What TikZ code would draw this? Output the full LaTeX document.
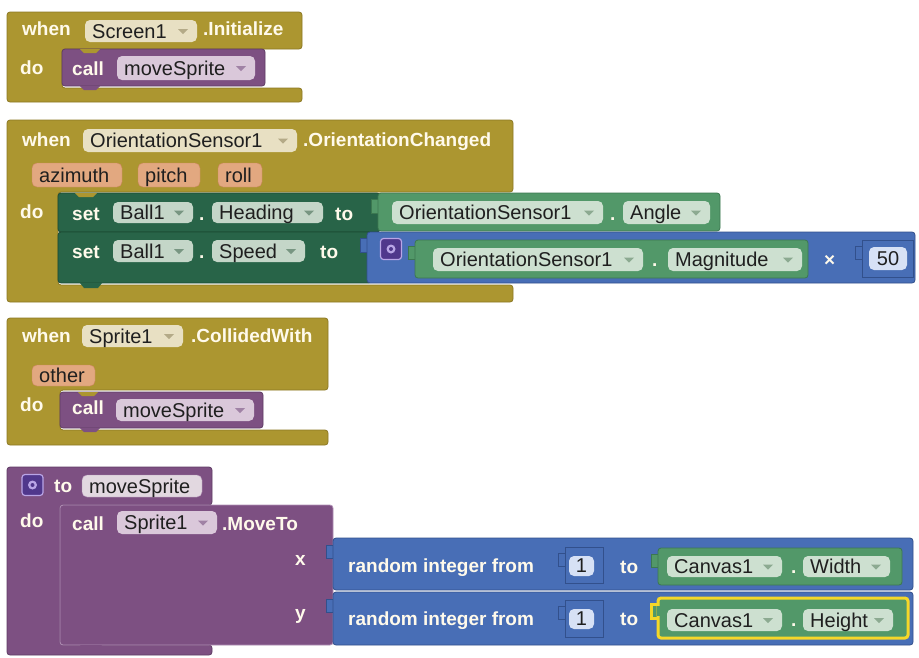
\documentclass[tikz,border=0pt]{standalone}
\usepackage{fontspec}
\setmainfont{Liberation Sans}
\definecolor{evt}{RGB}{172,150,48}
\definecolor{evtdk}{RGB}{140,120,35}
\definecolor{evtpill}{RGB}{232,224,195}
\definecolor{evttri}{RGB}{180,170,135}
\definecolor{param}{RGB}{226,168,128}
\definecolor{paramdk}{RGB}{205,135,95}
\definecolor{proc}{RGB}{125,80,130}
\definecolor{procdk}{RGB}{95,60,100}
\definecolor{proclt}{RGB}{178,145,182}
\definecolor{procpill}{RGB}{218,200,218}
\definecolor{procname}{RGB}{226,216,224}
\definecolor{proctri}{RGB}{160,130,165}
\definecolor{setc}{RGB}{40,100,72}
\definecolor{setdk}{RGB}{28,75,52}
\definecolor{setpill}{RGB}{196,214,200}
\definecolor{settri}{RGB}{120,150,130}
\definecolor{getc}{RGB}{82,152,105}
\definecolor{getdk}{RGB}{60,120,80}
\definecolor{getpill}{RGB}{205,224,208}
\definecolor{gettri}{RGB}{140,170,145}
\definecolor{mathc}{RGB}{72,110,182}
\definecolor{mathdk}{RGB}{50,80,140}
\definecolor{mathpill}{RGB}{215,225,245}
\definecolor{kwc}{RGB}{255,250,235}
\definecolor{gearc}{RGB}{80,55,140}
\definecolor{gearlt}{RGB}{185,165,230}
\definecolor{selc}{RGB}{245,215,40}
\tikzset{
  kw/.style={anchor=base west, inner sep=0pt, text=kwc, font=\bfseries\fontsize{19}{22}\selectfont},
  ptxt/.style={anchor=base west, inner sep=0pt, text=black!88, font=\fontsize{20}{24}\selectfont},
  ntxt/.style={anchor=center, inner sep=0pt, text=black!88, font=\fontsize{20}{24}\selectfont},
  pillbox/.style={rounded corners=5pt},
  blk/.style={rounded corners=3pt, line width=0.8pt},
  gearbox/.style={draw=gearlt, fill=gearc, rounded corners=3pt, line width=1.2pt, minimum size=21pt, inner sep=0pt},
}
% dropdown pill: name, x1, y1, x2, y2, options, triangle colour, text
\newcommand{\dpill}[8]{%
  \path[pillbox,#6] (#2,#3) rectangle (#4,#5);
  \node[ptxt] (#1) at (#2+7,{(#3+#5)/2+7}) {#8};
  \fill[#7] (#4-19,{(#3+#5)/2-2}) -- (#4-9,{(#3+#5)/2-2}) -- (#4-14,{(#3+#5)/2+3}) -- cycle;
}
% plain pill: name, x1, y1, x2, y2, options, text
\newcommand{\npill}[7]{%
  \path[pillbox,#6] (#2,#3) rectangle (#4,#5);
  \node[ptxt] (#1) at (#2+7,{(#3+#5)/2+7}) {#7};
}
% gear icon: name, centre x, centre y
\newcommand{\gearicon}[3]{%
  \node[gearbox] (#1) at (#2,#3) {};
  \fill[gearlt] (#1.center) circle[radius=4.5pt];
  \fill[gearc] (#1.center) circle[radius=2pt];
}
\begin{document}
\begin{tikzpicture}[x=1pt,y=-1pt]
\useasboundingbox (0,0) rectangle (919,657);
\fill[white] (0,0) rectangle (919,657);

% ---------------- Block 1: Screen1.Initialize
\filldraw[blk, fill=evt, draw=evtdk] (7,12) -- (302,12) -- (302,49) -- (62,49) -- (62,88) -- (302,88) -- (302,102) -- (7,102) -- cycle;
\filldraw[blk, fill=proc, draw=procdk] (62,49) rectangle (265,86);
\fill[evt] (80,49) -- (84,53) -- (96,53) -- (100,49) -- cycle;
\fill[proc] (80,86) -- (84,90) -- (96,90) -- (100,86) -- cycle;
\node[kw] (w1) at (22,35) {when};
\dpill{scr}{85}{20}{197}{42}{fill=evtpill}{evttri}{Screen1}
\node[kw] (ini) at (203,35) {.Initialize};
\node[kw] (do1) at (20,74) {do};
\node[kw] (call1) at (72,75) {call};
\dpill{ms1}{117}{56}{255}{80}{fill=procpill}{proctri}{moveSprite}

% ---------------- Block 2: OrientationChanged
\filldraw[blk, fill=evt, draw=evtdk] (7,120) -- (513,120) -- (513,192) -- (58,192) -- (58,285) -- (513,285) -- (513,302) -- (7,302) -- cycle;
\node[kw] (w2) at (22,146) {when};
\dpill{os0}{83}{129}{297}{152}{fill=evtpill}{evttri}{OrientationSensor1}
\node[kw] (oc) at (303,146) {.OrientationChanged};
\npill{az}{32}{163}{122}{187}{fill=param, draw=paramdk}{azimuth}
\npill{pt}{138}{163}{200}{187}{fill=param, draw=paramdk}{pitch}
\npill{rl}{218}{163}{262}{187}{fill=param, draw=paramdk}{roll}
\node[kw] (do2) at (20,218) {do};
% set blocks
\filldraw[blk, fill=setc, draw=setdk] (58,193) rectangle (380,232);
\filldraw[blk, fill=setc, draw=setdk] (58,232) rectangle (372,283);
\fill[evt] (75,193) -- (79,197) -- (93,197) -- (97,193) -- cycle;
\fill[setc] (80,283) -- (84,288) -- (98,288) -- (102,283) -- cycle;
\node[kw] (set1) at (72,220) {set};
\dpill{b1}{113}{202}{193}{223}{fill=setpill}{settri}{Ball1}
\node[kw] (dot1) at (199,220) {.};
\dpill{hd}{212}{202}{323}{223}{fill=setpill}{settri}{Heading}
\node[kw] (to1) at (335,220) {to};
% getter Angle
\filldraw[fill=getc, draw=getdk] (371,199) rectangle (379,213);
\filldraw[blk, fill=getc, draw=getdk] (378,193) rectangle (720,231);
\dpill{os1}{392}{201}{603}{224}{fill=getpill}{gettri}{OrientationSensor1}
\node[kw] (dot2) at (610,220) {.};
\dpill{ang}{623}{201}{710}{224}{fill=getpill}{gettri}{Angle}
% set speed
\node[kw] (set2) at (72,258) {set};
\dpill{b2}{113}{240}{193}{262}{fill=setpill}{settri}{Ball1}
\node[kw] (dot3) at (199,258) {.};
\dpill{sp}{212}{240}{305}{262}{fill=setpill}{settri}{Speed}
\node[kw] (to2) at (320,258) {to};
% multiply block
\filldraw[fill=mathc, draw=mathdk] (360,238) rectangle (368,252);
\filldraw[blk, fill=mathc, draw=mathdk] (367,232) rectangle (915,283);
\gearicon{g1}{391}{249}
\filldraw[fill=getc, draw=getdk] (408,246) rectangle (416,259);
\filldraw[blk, fill=getc, draw=getdk] (415,240) rectangle (808,278);
\dpill{os2}{433}{248}{643}{271}{fill=getpill}{gettri}{OrientationSensor1}
\node[kw] (dot4) at (652,266) {.};
\dpill{mag}{668}{248}{802}{271}{fill=getpill}{gettri}{Magnitude}
\node[kw] (times) at (824,266) {×};
\filldraw[fill=mathc, draw=mathdk] (855,246) rectangle (863,259);
\filldraw[fill=mathc, draw=mathdk, line width=1pt] (862,240) rectangle (913,277);
\fill[pillbox, mathpill] (869,247) rectangle (907,270);
\node[ntxt] (n50) at (888,258.5) {50};

% ---------------- Block 3: CollidedWith
\filldraw[blk, fill=evt, draw=evtdk] (7,318) -- (328,318) -- (328,390) -- (60,390) -- (60,430) -- (328,430) -- (328,445) -- (7,445) -- cycle;
\filldraw[blk, fill=proc, draw=procdk] (60,392) rectangle (263,428);
\fill[evt] (78,392) -- (82,396) -- (94,396) -- (98,392) -- cycle;
\fill[proc] (80,428) -- (84,432) -- (96,432) -- (100,428) -- cycle;
\node[kw] (w3) at (22,342) {when};
\dpill{sp1}{82}{325}{183}{347}{fill=evtpill}{evttri}{Sprite1}
\node[kw] (cw) at (191,342) {.CollidedWith};
\npill{oth}{32}{365}{95}{386}{fill=param, draw=paramdk}{other}
\node[kw] (do3) at (20,411) {do};
\node[kw] (call3) at (72,414) {call};
\dpill{ms3}{116}{399}{254}{421}{fill=procpill}{proctri}{moveSprite}

% ---------------- Block 4: to moveSprite
\filldraw[blk, fill=proc, draw=procdk] (7,467) -- (212,467) -- (212,505) -- (60,505) -- (60,645) -- (212,645) -- (212,655) -- (7,655) -- cycle;
\gearicon{g2}{32.5}{485}
\node[kw] (to4) at (54,492) {to};
\npill{pn}{82}{475}{202}{497}{fill=procname, draw=proclt}{moveSprite}
\node[kw] (do4) at (20,527) {do};
\filldraw[blk, fill=proc, draw=proclt] (60,505) rectangle (333,645);
\fill[proc] (80,645) -- (84,649) -- (98,649) -- (102,645) -- cycle;
\node[kw] (call4) at (72,530) {call};
\dpill{spr4}{117}{511}{217}{534}{fill=procpill}{proctri}{Sprite1}
\node[kw] (mt) at (222,530) {.MoveTo};
\node[kw] (xl) at (295,565) {x};
\node[kw] (yl) at (295,619) {y};
% random integer 1
\filldraw[fill=mathc, draw=mathdk] (326,545) rectangle (334,558);
\filldraw[blk, fill=mathc, draw=mathdk] (333,538) rectangle (913,590);
\node[kw] (r1) at (348,572) {random integer from};
\filldraw[fill=mathc, draw=mathdk] (558,553) rectangle (566,566);
\filldraw[fill=mathc, draw=mathdk, line width=1pt] (565,547) rectangle (603,583);
\fill[pillbox, mathpill] (569,556) rectangle (594,576);
\node[ntxt] (one1) at (581.5,566) {1};
\node[kw] (to5) at (620,573) {to};
\filldraw[fill=getc, draw=getdk] (651,554) rectangle (659,567);
\filldraw[blk, fill=getc, draw=getdk] (658,548) rectangle (902,585);
\dpill{cv1}{667}{556}{782}{577}{fill=getpill}{gettri}{Canvas1}
\node[kw] (dot5) at (791,573) {.};
\dpill{wd}{803}{556}{890}{577}{fill=getpill}{gettri}{Width}
% random integer 2
\filldraw[fill=mathc, draw=mathdk] (326,599) rectangle (334,612);
\filldraw[blk, fill=mathc, draw=mathdk] (333,592) rectangle (913,645);
\node[kw] (r2) at (348,625) {random integer from};
\filldraw[fill=mathc, draw=mathdk] (558,606) rectangle (566,619);
\filldraw[fill=mathc, draw=mathdk, line width=1pt] (565,600) rectangle (603,637);
\fill[pillbox, mathpill] (569,609) rectangle (594,629);
\node[ntxt] (one2) at (581.5,619) {1};
\node[kw] (to6) at (620,625) {to};
\filldraw[fill=getc, draw=selc, line width=3pt] (651,604) rectangle (659,618);
\filldraw[blk, fill=getc, draw=selc, line width=3pt] (658,598) rectangle (908,638);
\fill[getc] (657,606) rectangle (661,616);
\dpill{cv2}{667}{609}{782}{631}{fill=getpill}{gettri}{Canvas1}
\node[kw] (dot6) at (791,626) {.};
\dpill{ht}{803}{609}{893}{631}{fill=getpill}{gettri}{Height}
\end{tikzpicture}
\end{document}
